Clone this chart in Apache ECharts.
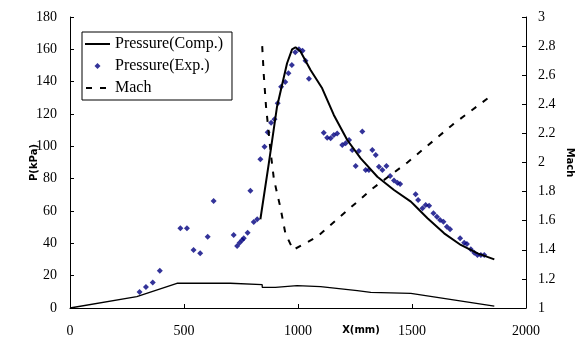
<!DOCTYPE html>
<html>
<head>
<meta charset="utf-8">
<script src="https://cdn.jsdelivr.net/npm/echarts@6/dist/echarts.min.js"></script>
<style>
html, body {margin: 0; padding: 0; background: #fff;}
#main {width: 576px; height: 341px;}
</style>
</head>
<body>
<div id="main"></div>
<script>
// computed pressure along the nozzle
const compX = [835, 872, 908, 952, 974, 989, 1011, 1055, 1106, 1157, 1216, 1275, 1348, 1421, 1495, 1510, 1568, 1641, 1714, 1788, 1861];
const compP = [54.9, 89.5, 124.5, 151.4, 160, 161.3, 158.6, 147.2, 135.9, 119.4, 103.9, 92.6, 81.2, 73, 65.8, 63.7, 55.5, 46.2, 39, 33.8, 30.1];

// measured pressure
const expX = [305, 333, 363, 394, 484, 513, 542, 571, 604, 630, 718, 733, 744, 755, 762, 779, 791, 806, 821,
    835, 853, 867, 882, 897, 911, 926, 944, 958, 973, 988, 1004, 1020, 1033, 1048,
    1113, 1128, 1143, 1157, 1172, 1194, 1209, 1224, 1238, 1253, 1267, 1282, 1297, 1311, 1326, 1341, 1355, 1370, 1388, 1404, 1421, 1436, 1448,
    1516, 1527, 1546, 1560, 1575, 1594, 1609, 1623, 1638, 1653, 1667,
    1711, 1729, 1741, 1758, 1773, 1787, 1802, 1817];
const expP = [9.9, 13, 15.7, 23.1, 49.3, 49.3, 35.9, 33.8, 44.1, 66.2, 45.2, 38.4, 40.4, 42.1, 43.1, 46.6, 72.6, 53.2, 54.9,
    92, 99.8, 108.7, 114.6, 116.7, 126.6, 136.9, 139.8, 145.2, 150.3, 158.2, 160, 159.2, 153, 141.8,
    108.4, 105.3, 105, 107, 108, 100.8, 101.9, 103.9, 97.7, 87.8, 97.1, 109.1, 85.4, 85.4, 97.7, 94.6, 87.4, 85.4, 87.8, 81.7, 78.8, 77.5, 76.7,
    70.3, 66.8, 61.7, 63.7, 63.3, 58.6, 56.5, 54.4, 53.4, 50.3, 48.7,
    43.1, 40.4, 39.6, 36.3, 34.2, 32.8, 32.8, 32.8];

// Mach number (right axis)
const machX = [843, 850, 860, 872, 880, 894, 908, 923, 945, 979, 1033, 1084, 1326, 1480, 1678, 1831];
const machV = [2.8, 2.6, 2.38, 2.2, 2.07, 1.89, 1.79, 1.69, 1.51, 1.4, 1.445, 1.49, 1.82, 2.0, 2.26, 2.44];

// nozzle wall profile drawn on the pressure axis
const profX = [0, 293, 469, 703, 843, 843, 901, 901, 996, 1099, 1260, 1260, 1319, 1319, 1495, 1861];
const profP = [0, 7, 15.3, 15.3, 14.4, 12.8, 12.8, 14, 13.8, 13.2, 10.7, 9.7, 9.7, 10.7, 9.1, 1.2];

const zip = (xs, ys) => xs.map((x, i) => [x, ys[i]]);

const serif = 'Liberation Serif';
const labelStyle = {color: '#000', fontFamily: serif, fontSize: 14};
const nameStyle = {color: '#000', fontFamily: 'DejaVu Sans', fontWeight: 'bold', fontSize: 10};
const axisLine = {show: true, onZero: false, lineStyle: {color: '#000', width: 1}};
const axisTick = {show: true, inside: true, length: 4, lineStyle: {color: '#000'}};

// legend icons (the leading moves keep the 25x8 icon box)
const iconSolid = 'path://M0,0 M25,8 M0,3 H25 V5 H0 Z';
const iconDiamond = 'path://M0,0 M25,8 M12.5,1 L15.5,4 L12.5,7 L9.5,4 Z';
const iconDash = 'path://M0,0 M25,8 M1,3 H7 V5 H1 Z M15,3 H21 V5 H15 Z';

const chart = echarts.init(document.getElementById('main'));
chart.setOption({
    animation: false,
    backgroundColor: '#fff',
    grid: {left: 70, right: 50, top: 17, bottom: 33, outerBoundsMode: 'none'},
    legend: {
        data: [
            {name: 'Pressure(Comp.)', icon: iconSolid},
            {name: 'Pressure(Exp.)', icon: iconDiamond},
            {name: 'Mach', icon: iconDash}
        ],
        orient: 'vertical',
        left: 82,
        top: 32,
        itemWidth: 25,
        itemHeight: 8,
        itemGap: 6,
        padding: [4, 9, 4, 3],
        borderColor: '#000',
        borderWidth: 1,
        backgroundColor: '#fff',
        textStyle: {color: '#000', fontFamily: serif, fontSize: 16}
    },
    xAxis: {
        type: 'value',
        min: 0,
        max: 2000,
        interval: 500,
        name: 'X(mm)',
        nameLocation: 'middle',
        nameGap: 17,
        nameMoveOverlap: false,
        nameTextStyle: Object.assign({padding: [0, 0, 0, 126]}, nameStyle),
        axisLine: axisLine,
        axisTick: axisTick,
        splitLine: {show: false},
        axisLabel: Object.assign({margin: 16, formatter: v => String(v)}, labelStyle)
    },
    yAxis: [
        {
            type: 'value',
            min: 0,
            max: 180,
            interval: 20,
            name: 'P(kPa)',
            nameLocation: 'middle',
            nameRotate: 90,
            nameGap: 31,
            nameMoveOverlap: false,
            nameTextStyle: nameStyle,
            axisLine: axisLine,
            axisTick: axisTick,
            splitLine: {show: false},
            axisLabel: Object.assign({margin: 13}, labelStyle)
        },
        {
            type: 'value',
            position: 'right',
            min: 1,
            max: 3,
            interval: 0.2,
            name: 'Mach',
            nameLocation: 'middle',
            nameRotate: -90,
            nameGap: 39,
            nameMoveOverlap: false,
            nameTextStyle: nameStyle,
            axisLine: axisLine,
            axisTick: axisTick,
            splitLine: {show: false},
            axisLabel: Object.assign({margin: 12}, labelStyle)
        }
    ],
    series: [
        {
            name: 'Pressure(Comp.)',
            type: 'line',
            symbol: 'none',
            lineStyle: {color: '#000', width: 2},
            itemStyle: {color: '#000'},
            data: zip(compX, compP)
        },
        {
            name: 'Pressure(Exp.)',
            type: 'scatter',
            symbol: 'diamond',
            symbolSize: 6,
            itemStyle: {color: '#000080'},
            data: zip(expX, expP)
        },
        {
            name: 'Mach',
            type: 'line',
            yAxisIndex: 1,
            symbol: 'none',
            lineStyle: {color: '#000', width: 2, type: [6, 8]},
            itemStyle: {color: '#000'},
            data: zip(machX, machV)
        },
        {
            name: 'Profile',
            type: 'line',
            symbol: 'none',
            lineStyle: {color: '#000', width: 1.3},
            itemStyle: {color: '#000'},
            data: zip(profX, profP)
        }
    ]
});
</script>
</body>
</html>
